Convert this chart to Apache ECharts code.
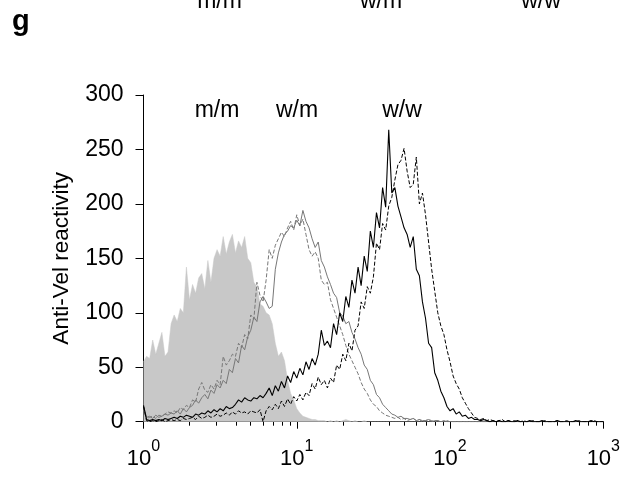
<!DOCTYPE html>
<html><head><meta charset="utf-8">
<script src="https://cdn.jsdelivr.net/npm/echarts@6/dist/echarts.min.js"></script>
<style>html,body{margin:0;padding:0;background:#fff}#chart{width:623px;height:479px}</style>
</head><body><div id="chart"></div>
<script>
// channel index 0..150 : 50 channels per decade, 10^0 .. 10^3
const channelsPerDecade = 50;
const decadeExponents = ['0', '1', '2', '3'];
const yTicks = [0, 50, 100, 150, 200, 250, 300];
const genotypeLabels = ['m/m', 'w/m', 'w/w'];
const yAxisTitle = 'Anti-Vel reactivity';
const panelLetter = 'g';

// m/m (grey filled histogram)
const mmFill = [
  55, 60, 58, 75, 62, 72, 82, 60, 64, 90,
  98, 92, 104, 100, 142, 112, 126, 118, 132, 136,
  122, 148, 128, 150, 158, 152, 170, 154, 165, 172,
  155, 166, 160, 170, 150, 146, 128, 124, 108, 106,
  100, 98, 90, 72, 60, 64, 56, 38, 26, 20,
  12, 8, 5, 4, 3, 2, 2, 1, 1, 1,
  0, 1, 0, 1, 0, 1, 2, 1, 0, 1,
  0, 0, 1, 0, 0, 0, 0, 0, 0, 0,
  0, 0, 0, 0, 0, 0, 0, 0, 0, 0,
  0, 0, 0, 0, 0, 0, 0, 0, 0, 0,
  0, 0, 0, 0, 0, 0, 0, 0, 0, 0,
  0, 0, 0, 0, 0, 0, 0, 0, 0, 0,
  0, 0, 0, 0, 0, 0, 0, 0, 0, 0,
  0, 0, 0, 0, 0, 0, 0, 0, 0, 0,
  0, 0, 0, 0, 0, 0, 0, 0, 0, 0,
  0
];
// w/m (grey solid)
const wmSolid = [
  14, 4, 5, 3, 6, 4, 5, 7, 6, 8,
  7, 10, 7, 12, 9, 13, 15, 20, 17, 22,
  25, 21, 29, 26, 34, 31, 38, 35, 48, 45,
  58, 54, 70, 66, 78, 84, 96, 92, 110, 115,
  110, 104, 106, 140, 155, 165, 172, 175, 180, 178,
  185, 180, 194, 184, 178, 168, 160, 165, 148, 142,
  133, 126, 118, 114, 100, 97, 90, 92, 82, 76,
  68, 62, 52, 48, 38, 34, 25, 22, 16, 13,
  10, 7, 6, 4, 5, 3, 3, 2, 3, 1,
  2, 1, 1, 2, 0, 1, 1, 0, 1, 0,
  0, 0, 0, 0, 0, 0, 0, 0, 0, 0,
  0, 0, 0, 0, 0, 0, 0, 0, 0, 0,
  0, 0, 0, 0, 0, 0, 0, 0, 0, 0,
  0, 0, 0, 0, 0, 0, 0, 0, 0, 0,
  0, 0, 0, 0, 0, 0, 0, 0, 0, 0,
  0
];
// w/m (grey dashed)
const wmDashed = [
  12, 3, 4, 5, 3, 6, 5, 7, 9, 8,
  10, 8, 13, 11, 15, 13, 20, 18, 30, 36,
  29, 27, 34, 30, 38, 34, 60, 52, 56, 62,
  60, 72, 68, 80, 76, 98, 94, 128, 116, 110,
  130, 158, 150, 162, 168, 174, 170, 178, 184, 176,
  190, 180, 186, 172, 158, 152, 156, 150, 130, 126,
  128, 112, 104, 96, 88, 80, 70, 62, 56, 50,
  44, 36, 30, 26, 20, 16, 14, 10, 8, 6,
  5, 4, 3, 4, 2, 3, 1, 2, 3, 1,
  2, 0, 1, 2, 1, 0, 1, 0, 0, 1,
  0, 0, 0, 0, 0, 0, 0, 0, 0, 0,
  0, 0, 0, 0, 0, 0, 0, 0, 0, 0,
  0, 0, 0, 0, 0, 0, 0, 0, 0, 0,
  0, 0, 0, 0, 0, 0, 0, 0, 0, 0,
  0, 0, 0, 0, 0, 0, 0, 0, 0, 0,
  0
];
// w/w (black solid)
const wwSolid = [
  15, 2, 1, 2, 1, 2, 1, 3, 2, 3,
  4, 3, 5, 4, 6, 5, 4, 7, 6, 8,
  7, 10, 8, 11, 9, 12, 10, 14, 12, 13,
  16, 20, 18, 22, 20, 19, 22, 21, 24, 22,
  26, 31, 24, 33, 28, 37, 31, 42, 36, 46,
  40, 49, 43, 55, 48, 58, 52, 62, 84, 70,
  74, 68, 90, 80, 100, 92, 115, 105, 130, 118,
  142, 125, 152, 138, 175, 160, 192, 178, 215, 197,
  268, 210, 215, 198, 188, 178, 172, 160, 170, 140,
  134, 110, 95, 72, 68, 45, 38, 28, 22, 14,
  10, 12, 7, 9, 5, 6, 3, 4, 2, 2,
  1, 2, 1, 0, 1, 0, 1, 0, 0, 1,
  0, 0, 1, 0, 0, 0, 1, 0, 0, 0,
  1, 0, 0, 0, 0, 1, 0, 0, 0, 0,
  0, 1, 0, 0, 0, 0, 1, 0, 0, 0,
  0
];
// w/w (black dashed)
const wwDashed = [
  14, 1, 0, 1, 0, 1, 2, 0, 1, 2,
  1, 2, 1, 3, 2, 3, 4, 2, 5, 3,
  4, 6, 4, 5, 7, 5, 6, 8, 6, 9,
  7, 10, 8, 9, 7, 10, 9, 8, 11, 0,
  10, 14, 11, 16, 12, 19, 14, 21, 16, 23,
  19, 25, 20, 27, 24, 35, 30, 41, 34, 38,
  31, 40, 36, 52, 48, 62, 56, 72, 65, 84,
  88, 110, 104, 124, 118, 133, 164, 158, 182, 176,
  198, 206, 222, 236, 240, 251, 230, 215, 218, 243,
  200, 210, 190, 165, 140, 120, 100, 88, 80, 66,
  55, 42, 35, 30, 22, 17, 12, 8, 4, 3,
  2, 3, 1, 2, 1, 0, 1, 2, 0, 1,
  0, 1, 0, 0, 1, 0, 0, 1, 0, 0,
  0, 1, 0, 0, 0, 1, 0, 0, 1, 0,
  0, 0, 1, 0, 0, 0, 0, 1, 0, 0,
  0
];

const FONT = '"Liberation Sans", Arial, Helvetica, sans-serif';
const pairs = arr => arr.map((v, i) => [i, v]);

const minorTicks = [];
for (let d = 0; d < decadeExponents.length - 1; d++) {
  for (let k = 2; k <= 9; k++) minorTicks.push(d * channelsPerDecade + channelsPerDecade * Math.log10(k));
}
const xMax = (decadeExponents.length - 1) * channelsPerDecade;

const chart = echarts.init(document.getElementById('chart'), null, {renderer: 'canvas'});
const lineBase = {type: 'line', showSymbol: false, symbol: 'none', animation: false, xAxisIndex: 0, yAxisIndex: 0};

chart.setOption({
  backgroundColor: '#fff',
  animation: false,
  grid: {left: 143.5, right: 19.3, top: 95, bottom: 57.3, containLabel: false},
  xAxis: [{
    type: 'value', min: 0, max: xMax, interval: channelsPerDecade,
    axisLine: {show: true, lineStyle: {color: '#000', width: 1}},
    axisTick: {show: true, length: 7, lineStyle: {color: '#000', width: 1}},
    splitLine: {show: false},
    axisLabel: {
      margin: 17, color: '#000',
      formatter: v => '{b|10}{s|' + decadeExponents[Math.round(v / channelsPerDecade)] + '}',
      rich: {
        b: {fontSize: 22, fontFamily: FONT, color: '#000', padding: [9, 0, 0, 0]},
        s: {fontSize: 16, fontFamily: FONT, color: '#000', verticalAlign: 'top'}
      }
    }
  }, {
    type: 'value', min: 0, max: xMax, position: 'bottom', gridIndex: 0,
    axisLine: {show: false},
    axisTick: {show: true, length: 4, customValues: minorTicks, lineStyle: {color: '#000', width: 1}},
    axisLabel: {show: false},
    splitLine: {show: false}
  }],
  yAxis: {
    type: 'value', min: yTicks[0], max: yTicks[yTicks.length - 1], interval: yTicks[1] - yTicks[0],
    axisLine: {show: true, lineStyle: {color: '#000', width: 1}},
    axisTick: {show: true, length: 8, lineStyle: {color: '#000', width: 1}},
    splitLine: {show: false},
    axisLabel: {margin: 20, fontSize: 23, fontFamily: FONT, color: '#000'},
    name: yAxisTitle, nameLocation: 'middle', nameRotate: 90, nameGap: 70,
    nameTextStyle: {fontSize: 22.5, fontFamily: FONT, color: '#000'}
  },
  series: [
    Object.assign({}, lineBase, {name: 'm/m', data: pairs(mmFill), z: 1,
      lineStyle: {width: 0.5, color: '#c8c8c8'}, areaStyle: {color: '#c8c8c8', opacity: 1}}),
    Object.assign({}, lineBase, {name: 'w/m 1', data: pairs(wmSolid), z: 3,
      lineStyle: {width: 1, color: '#777', type: 'solid'}}),
    Object.assign({}, lineBase, {name: 'w/m 2', data: pairs(wmDashed), z: 3,
      lineStyle: {width: 1, color: '#777', type: [4, 2]}}),
    Object.assign({}, lineBase, {name: 'w/w 1', data: pairs(wwSolid), z: 4,
      lineStyle: {width: 1.1, color: '#000', type: 'solid'}}),
    Object.assign({}, lineBase, {name: 'w/w 2', data: pairs(wwDashed), z: 4,
      lineStyle: {width: 1, color: '#000', type: [4, 2]}})
  ],
  graphic: [
    {type: 'text', z: 10, style: {text: panelLetter, x: 12, y: 21.5, font: 'bold 29px ' + FONT, fill: '#000', align: 'left', verticalAlign: 'middle'}},
    {type: 'text', z: 10, style: {text: genotypeLabels[0], x: 219.5, y: 1.5, font: '23px ' + FONT, fill: '#000', align: 'center', verticalAlign: 'middle'}},
    {type: 'text', z: 10, style: {text: genotypeLabels[1], x: 381, y: 1.5, font: '23px ' + FONT, fill: '#000', align: 'center', verticalAlign: 'middle'}},
    {type: 'text', z: 10, style: {text: genotypeLabels[2], x: 541, y: 1.5, font: '23px ' + FONT, fill: '#000', align: 'center', verticalAlign: 'middle'}},
    {type: 'text', z: 10, style: {text: genotypeLabels[0], x: 217, y: 111, font: '23px ' + FONT, fill: '#000', align: 'center', verticalAlign: 'middle'}},
    {type: 'text', z: 10, style: {text: genotypeLabels[1], x: 297, y: 111, font: '23px ' + FONT, fill: '#000', align: 'center', verticalAlign: 'middle'}},
    {type: 'text', z: 10, style: {text: genotypeLabels[2], x: 402, y: 110.5, font: '23px ' + FONT, fill: '#000', align: 'center', verticalAlign: 'middle'}}
  ]
});
</script>
</body></html>
